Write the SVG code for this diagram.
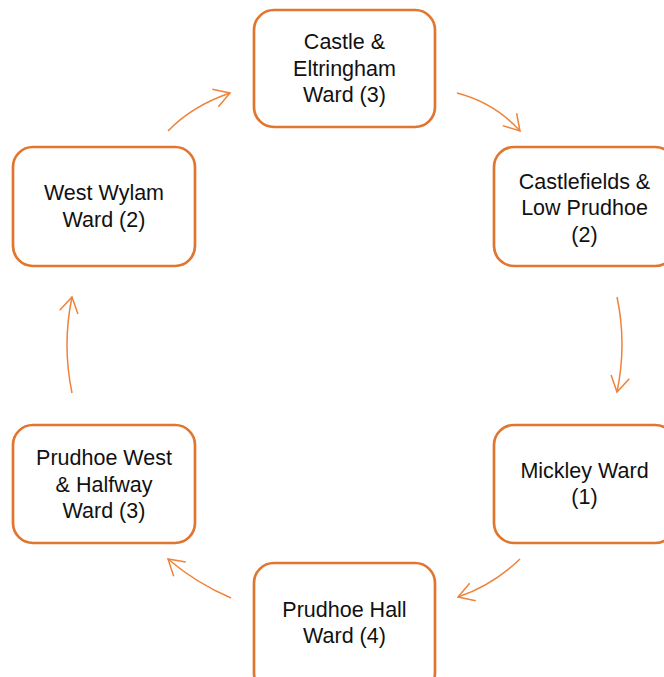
<svg xmlns="http://www.w3.org/2000/svg" width="664" height="677" viewBox="0 0 664 677">
<style>
.box{fill:#fff;stroke:#E0762F;stroke-width:2.7}
.t{font-family:"Liberation Sans",Arial,sans-serif;font-size:21.5px;fill:#111;text-anchor:middle}
.c{fill:none;stroke:#F0823A;stroke-width:1.5;marker-end:url(#ah)}
</style>
<defs>
<marker id="ah" markerUnits="userSpaceOnUse" markerWidth="40" markerHeight="40" refX="0" refY="0" orient="auto" overflow="visible">
<path d="M-15.5,-9.3 L0,0 L-15.5,9.3" fill="none" stroke="#F0823A" stroke-width="1.5"/>
</marker>
</defs>
<rect width="664" height="677" fill="#fff"/>
<g id="connectors">
<path class="c" d="M168,131 Q192,106 230,93"/>
<path class="c" d="M457,93 Q495,103 520,131"/>
<path class="c" d="M617,297 Q627,344 617,392"/>
<path class="c" d="M520,559 Q493,585 458,597"/>
<path class="c" d="M231,598 Q196,583 168,559"/>
<path class="c" d="M72,393 Q62,345 72,297"/>
</g>
<g id="castle">
<rect class="box" x="254" y="10" width="181" height="117" rx="20"/>
<text class="t" x="344.5" y="49">Castle &amp;</text>
<text class="t" x="344.5" y="75.5">Eltringham</text>
<text class="t" x="344.5" y="102">Ward (3)</text>
</g>
<g id="castlefields">
<rect class="box" x="494" y="147" width="181" height="119" rx="20"/>
<text class="t" x="584.5" y="188.5">Castlefields &amp;</text>
<text class="t" x="584.5" y="215">Low Prudhoe</text>
<text class="t" x="584.5" y="241.5">(2)</text>
</g>
<g id="mickley">
<rect class="box" x="494" y="425" width="181" height="118" rx="20"/>
<text class="t" x="584.5" y="477.5">Mickley Ward</text>
<text class="t" x="584.5" y="504">(1)</text>
</g>
<g id="prudhoe-hall">
<rect class="box" x="254" y="563" width="181" height="130" rx="20"/>
<text class="t" x="344.5" y="616.5">Prudhoe Hall</text>
<text class="t" x="344.5" y="643">Ward (4)</text>
</g>
<g id="prudhoe-west">
<rect class="box" x="13" y="425" width="182" height="118" rx="20"/>
<text class="t" x="104" y="465">Prudhoe West</text>
<text class="t" x="104" y="491.5">&amp; Halfway</text>
<text class="t" x="104" y="518">Ward (3)</text>
</g>
<g id="west-wylam">
<rect class="box" x="13" y="147" width="182" height="119" rx="20"/>
<text class="t" x="104" y="200">West Wylam</text>
<text class="t" x="104" y="226.5">Ward (2)</text>
</g>
</svg>
